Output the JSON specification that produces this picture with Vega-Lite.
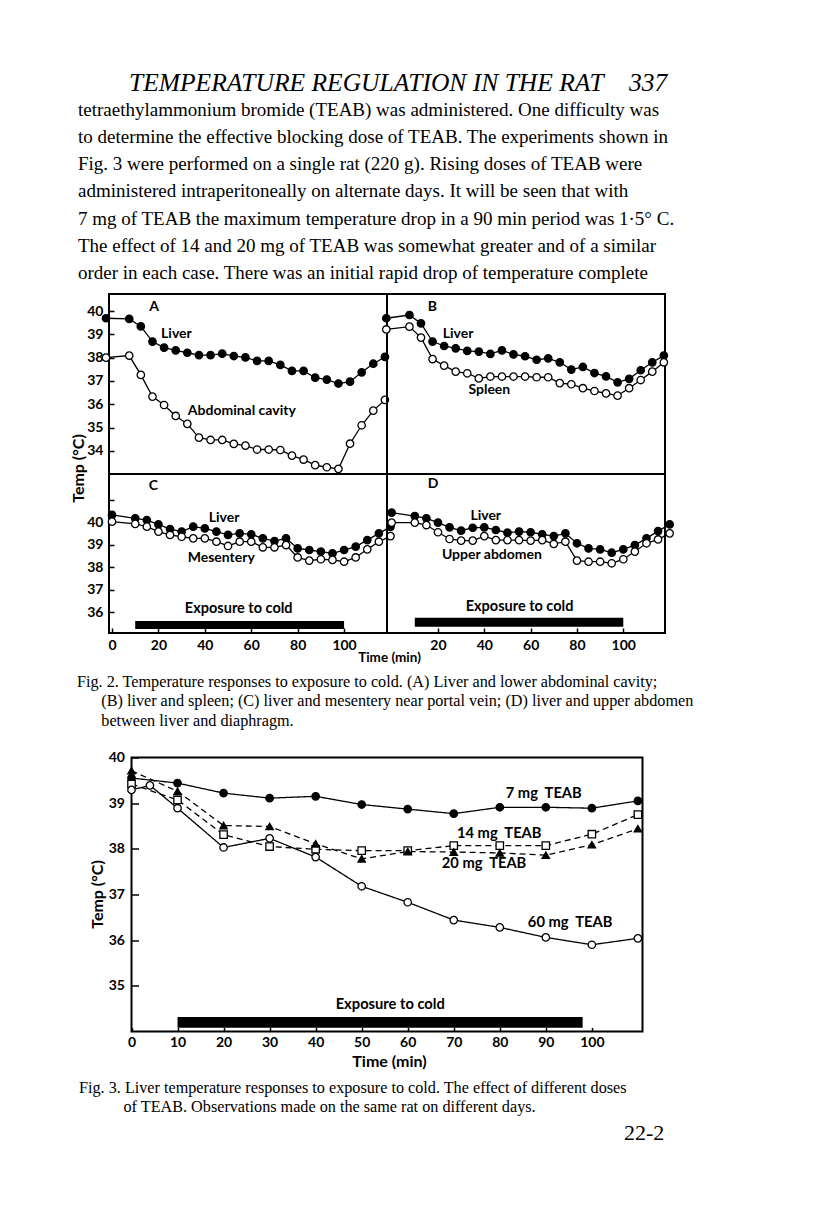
{
  "$schema": "https://vega.github.io/schema/vega-lite/v6.json",
  "background": "white",
  "padding": {"left": 69, "top": 71, "right": 0, "bottom": 0},
  "autosize": {"type": "pad"},
  "config": {
    "font": "Lato",
    "view": {"stroke": "black", "strokeWidth": 2},
    "axis": {"labelFont": "Lato", "labelFontWeight": "bold", "labelFontSize": 14, "labelColor": "black", "labelOverlap": false, "titleFont": "Lato", "titleFontWeight": "bold", "titleFontSize": 13.5, "titleColor": "black", "tickColor": "black", "tickWidth": 1.5, "domainColor": "black", "grid": false},
    "text": {"font": "Lato", "fontWeight": "bold", "fontSize": 14, "color": "black"}
  },
  "title": {
    "text": "\u200b\u00a0\u00a0\u00a0\u00a0\u00a0\u00a0\u00a0\u00a0TEMPERATURE REGULATION IN THE RAT\u00a0\u00a0\u00a0\u00a0337",
    "subtitle": [
      "tetraethylammonium bromide (TEAB) was administered.  One difficulty was",
      "to determine the effective blocking dose of TEAB.  The experiments shown in",
      "Fig. 3 were performed on a single rat (220 g).  Rising doses of TEAB were",
      "administered intraperitoneally on alternate days.  It will be seen that with",
      "7 mg of TEAB the maximum temperature drop in a 90 min period was 1\u00b75\u00b0 C.",
      "The effect of 14 and 20 mg of TEAB was somewhat greater and of a similar",
      "order in each case. There was an initial rapid drop of temperature complete"
    ],
    "anchor": "start", "dx": 9,
    "font": "Liberation Serif", "fontSize": 25.5, "fontStyle": "italic", "fontWeight": "normal", "color": "black",
    "subtitleFont": "Liberation Serif", "subtitleFontSize": 19, "subtitleFontStyle": "normal", "subtitleFontWeight": "normal", "subtitleColor": "black",
    "subtitleLineHeight": 27.2, "subtitlePadding": 4, "offset": 10
  },
  "datasets": {
    "fig2": [
      {"panel":"A","series":"Liver","t":0,"T":39.69},{"panel":"A","series":"Liver","t":10,"T":39.66},{"panel":"A","series":"Liver","t":15,"T":39.34},{"panel":"A","series":"Liver","t":20,"T":38.69},{"panel":"A","series":"Liver","t":25,"T":38.43},{"panel":"A","series":"Liver","t":30,"T":38.31},{"panel":"A","series":"Liver","t":35,"T":38.21},{"panel":"A","series":"Liver","t":40,"T":38.11},{"panel":"A","series":"Liver","t":45,"T":38.11},{"panel":"A","series":"Liver","t":50,"T":38.17},{"panel":"A","series":"Liver","t":55,"T":38.07},{"panel":"A","series":"Liver","t":60,"T":38.01},{"panel":"A","series":"Liver","t":65,"T":37.86},{"panel":"A","series":"Liver","t":70,"T":37.86},{"panel":"A","series":"Liver","t":75,"T":37.69},{"panel":"A","series":"Liver","t":80,"T":37.43},{"panel":"A","series":"Liver","t":85,"T":37.43},{"panel":"A","series":"Liver","t":90,"T":37.14},{"panel":"A","series":"Liver","t":95,"T":37.06},{"panel":"A","series":"Liver","t":100,"T":36.89},{"panel":"A","series":"Liver","t":105,"T":36.97},{"panel":"A","series":"Liver","t":110,"T":37.37},{"panel":"A","series":"Liver","t":115,"T":37.74},{"panel":"A","series":"Liver","t":120,"T":38.03},
      {"panel":"A","series":"Abdominal cavity","t":0,"T":38.0},{"panel":"A","series":"Abdominal cavity","t":10,"T":38.09},{"panel":"A","series":"Abdominal cavity","t":15,"T":37.26},{"panel":"A","series":"Abdominal cavity","t":20,"T":36.33},{"panel":"A","series":"Abdominal cavity","t":25,"T":35.97},{"panel":"A","series":"Abdominal cavity","t":30,"T":35.5},{"panel":"A","series":"Abdominal cavity","t":35,"T":35.16},{"panel":"A","series":"Abdominal cavity","t":40,"T":34.57},{"panel":"A","series":"Abdominal cavity","t":45,"T":34.47},{"panel":"A","series":"Abdominal cavity","t":50,"T":34.47},{"panel":"A","series":"Abdominal cavity","t":55,"T":34.3},{"panel":"A","series":"Abdominal cavity","t":60,"T":34.23},{"panel":"A","series":"Abdominal cavity","t":65,"T":34.06},{"panel":"A","series":"Abdominal cavity","t":70,"T":34.06},{"panel":"A","series":"Abdominal cavity","t":75,"T":34.04},{"panel":"A","series":"Abdominal cavity","t":80,"T":33.8},{"panel":"A","series":"Abdominal cavity","t":85,"T":33.63},{"panel":"A","series":"Abdominal cavity","t":90,"T":33.39},{"panel":"A","series":"Abdominal cavity","t":95,"T":33.3},{"panel":"A","series":"Abdominal cavity","t":100,"T":33.23},{"panel":"A","series":"Abdominal cavity","t":105,"T":34.31},{"panel":"A","series":"Abdominal cavity","t":110,"T":35.1},{"panel":"A","series":"Abdominal cavity","t":115,"T":35.73},{"panel":"A","series":"Abdominal cavity","t":120,"T":36.19},
      {"panel":"B","series":"Liver","t":0,"T":39.69},{"panel":"B","series":"Liver","t":10,"T":39.83},{"panel":"B","series":"Liver","t":15,"T":39.47},{"panel":"B","series":"Liver","t":20,"T":38.69},{"panel":"B","series":"Liver","t":25,"T":38.5},{"panel":"B","series":"Liver","t":30,"T":38.4},{"panel":"B","series":"Liver","t":35,"T":38.29},{"panel":"B","series":"Liver","t":40,"T":38.26},{"panel":"B","series":"Liver","t":45,"T":38.16},{"panel":"B","series":"Liver","t":50,"T":38.31},{"panel":"B","series":"Liver","t":55,"T":38.14},{"panel":"B","series":"Liver","t":60,"T":38.06},{"panel":"B","series":"Liver","t":65,"T":37.91},{"panel":"B","series":"Liver","t":70,"T":37.97},{"panel":"B","series":"Liver","t":75,"T":37.8},{"panel":"B","series":"Liver","t":80,"T":37.49},{"panel":"B","series":"Liver","t":85,"T":37.6},{"panel":"B","series":"Liver","t":90,"T":37.34},{"panel":"B","series":"Liver","t":95,"T":37.2},{"panel":"B","series":"Liver","t":100,"T":36.94},{"panel":"B","series":"Liver","t":105,"T":37.09},{"panel":"B","series":"Liver","t":110,"T":37.46},{"panel":"B","series":"Liver","t":115,"T":37.8},{"panel":"B","series":"Liver","t":120,"T":38.09},
      {"panel":"B","series":"Spleen","t":0,"T":39.21},{"panel":"B","series":"Spleen","t":10,"T":39.33},{"panel":"B","series":"Spleen","t":15,"T":38.86},{"panel":"B","series":"Spleen","t":20,"T":37.94},{"panel":"B","series":"Spleen","t":25,"T":37.66},{"panel":"B","series":"Spleen","t":30,"T":37.4},{"panel":"B","series":"Spleen","t":35,"T":37.33},{"panel":"B","series":"Spleen","t":40,"T":37.11},{"panel":"B","series":"Spleen","t":45,"T":37.19},{"panel":"B","series":"Spleen","t":50,"T":37.19},{"panel":"B","series":"Spleen","t":55,"T":37.19},{"panel":"B","series":"Spleen","t":60,"T":37.19},{"panel":"B","series":"Spleen","t":65,"T":37.16},{"panel":"B","series":"Spleen","t":70,"T":37.16},{"panel":"B","series":"Spleen","t":75,"T":36.91},{"panel":"B","series":"Spleen","t":80,"T":36.86},{"panel":"B","series":"Spleen","t":85,"T":36.69},{"panel":"B","series":"Spleen","t":90,"T":36.57},{"panel":"B","series":"Spleen","t":95,"T":36.47},{"panel":"B","series":"Spleen","t":100,"T":36.37},{"panel":"B","series":"Spleen","t":105,"T":36.69},{"panel":"B","series":"Spleen","t":110,"T":37.04},{"panel":"B","series":"Spleen","t":115,"T":37.4},{"panel":"B","series":"Spleen","t":120,"T":37.8},
      {"panel":"C","series":"Liver","t":0,"T":40.33},{"panel":"C","series":"Liver","t":10,"T":40.18},{"panel":"C","series":"Liver","t":15,"T":40.1},{"panel":"C","series":"Liver","t":20,"T":39.91},{"panel":"C","series":"Liver","t":25,"T":39.7},{"panel":"C","series":"Liver","t":30,"T":39.59},{"panel":"C","series":"Liver","t":35,"T":39.81},{"panel":"C","series":"Liver","t":40,"T":39.73},{"panel":"C","series":"Liver","t":45,"T":39.59},{"panel":"C","series":"Liver","t":50,"T":39.44},{"panel":"C","series":"Liver","t":55,"T":39.51},{"panel":"C","series":"Liver","t":60,"T":39.47},{"panel":"C","series":"Liver","t":65,"T":39.29},{"panel":"C","series":"Liver","t":70,"T":39.17},{"panel":"C","series":"Liver","t":75,"T":39.29},{"panel":"C","series":"Liver","t":80,"T":38.84},{"panel":"C","series":"Liver","t":85,"T":38.77},{"panel":"C","series":"Liver","t":90,"T":38.7},{"panel":"C","series":"Liver","t":95,"T":38.62},{"panel":"C","series":"Liver","t":100,"T":38.77},{"panel":"C","series":"Liver","t":105,"T":38.92},{"panel":"C","series":"Liver","t":110,"T":39.21},{"panel":"C","series":"Liver","t":115,"T":39.51},{"panel":"C","series":"Liver","t":120,"T":39.8},
      {"panel":"C","series":"Mesentery","t":0,"T":40.03},{"panel":"C","series":"Mesentery","t":10,"T":39.93},{"panel":"C","series":"Mesentery","t":15,"T":39.81},{"panel":"C","series":"Mesentery","t":20,"T":39.59},{"panel":"C","series":"Mesentery","t":25,"T":39.44},{"panel":"C","series":"Mesentery","t":30,"T":39.36},{"panel":"C","series":"Mesentery","t":35,"T":39.29},{"panel":"C","series":"Mesentery","t":40,"T":39.29},{"panel":"C","series":"Mesentery","t":45,"T":39.14},{"panel":"C","series":"Mesentery","t":50,"T":38.95},{"panel":"C","series":"Mesentery","t":55,"T":39.14},{"panel":"C","series":"Mesentery","t":60,"T":39.14},{"panel":"C","series":"Mesentery","t":65,"T":38.89},{"panel":"C","series":"Mesentery","t":70,"T":38.89},{"panel":"C","series":"Mesentery","t":75,"T":38.99},{"panel":"C","series":"Mesentery","t":80,"T":38.44},{"panel":"C","series":"Mesentery","t":85,"T":38.3},{"panel":"C","series":"Mesentery","t":90,"T":38.36},{"panel":"C","series":"Mesentery","t":95,"T":38.33},{"panel":"C","series":"Mesentery","t":100,"T":38.25},{"panel":"C","series":"Mesentery","t":105,"T":38.44},{"panel":"C","series":"Mesentery","t":110,"T":38.8},{"panel":"C","series":"Mesentery","t":115,"T":39.14},{"panel":"C","series":"Mesentery","t":120,"T":39.39},
      {"panel":"D","series":"Liver","t":0,"T":40.43},{"panel":"D","series":"Liver","t":10,"T":40.28},{"panel":"D","series":"Liver","t":15,"T":40.18},{"panel":"D","series":"Liver","t":20,"T":39.99},{"panel":"D","series":"Liver","t":25,"T":39.78},{"panel":"D","series":"Liver","t":30,"T":39.63},{"panel":"D","series":"Liver","t":35,"T":39.76},{"panel":"D","series":"Liver","t":40,"T":39.78},{"panel":"D","series":"Liver","t":45,"T":39.66},{"panel":"D","series":"Liver","t":50,"T":39.54},{"panel":"D","series":"Liver","t":55,"T":39.59},{"panel":"D","series":"Liver","t":60,"T":39.56},{"panel":"D","series":"Liver","t":65,"T":39.47},{"panel":"D","series":"Liver","t":70,"T":39.39},{"panel":"D","series":"Liver","t":75,"T":39.51},{"panel":"D","series":"Liver","t":80,"T":39.07},{"panel":"D","series":"Liver","t":85,"T":38.84},{"panel":"D","series":"Liver","t":90,"T":38.8},{"panel":"D","series":"Liver","t":95,"T":38.65},{"panel":"D","series":"Liver","t":100,"T":38.8},{"panel":"D","series":"Liver","t":105,"T":38.99},{"panel":"D","series":"Liver","t":110,"T":39.29},{"panel":"D","series":"Liver","t":115,"T":39.61},{"panel":"D","series":"Liver","t":120,"T":39.91},
      {"panel":"D","series":"Upper abdomen","t":0,"T":39.99},{"panel":"D","series":"Upper abdomen","t":10,"T":39.99},{"panel":"D","series":"Upper abdomen","t":15,"T":39.88},{"panel":"D","series":"Upper abdomen","t":20,"T":39.56},{"panel":"D","series":"Upper abdomen","t":25,"T":39.26},{"panel":"D","series":"Upper abdomen","t":30,"T":39.19},{"panel":"D","series":"Upper abdomen","t":35,"T":39.19},{"panel":"D","series":"Upper abdomen","t":40,"T":39.39},{"panel":"D","series":"Upper abdomen","t":45,"T":39.21},{"panel":"D","series":"Upper abdomen","t":50,"T":39.21},{"panel":"D","series":"Upper abdomen","t":55,"T":39.21},{"panel":"D","series":"Upper abdomen","t":60,"T":39.19},{"panel":"D","series":"Upper abdomen","t":65,"T":39.21},{"panel":"D","series":"Upper abdomen","t":70,"T":39.04},{"panel":"D","series":"Upper abdomen","t":75,"T":39.14},{"panel":"D","series":"Upper abdomen","t":80,"T":38.3},{"panel":"D","series":"Upper abdomen","t":85,"T":38.25},{"panel":"D","series":"Upper abdomen","t":90,"T":38.25},{"panel":"D","series":"Upper abdomen","t":95,"T":38.18},{"panel":"D","series":"Upper abdomen","t":100,"T":38.36},{"panel":"D","series":"Upper abdomen","t":105,"T":38.7},{"panel":"D","series":"Upper abdomen","t":110,"T":39.07},{"panel":"D","series":"Upper abdomen","t":115,"T":39.24},{"panel":"D","series":"Upper abdomen","t":120,"T":39.51}
    ],
    "fig2labels": [
      {"panel":"A","label":"A","t":18.6,"T":40.18},{"panel":"A","label":"Liver","t":23.7,"T":39.0},{"panel":"A","label":"Abdominal cavity","t":35.2,"T":35.71},
      {"panel":"B","label":"B","t":17.9,"T":40.19},{"panel":"B","label":"Liver","t":24.4,"T":39.01},{"panel":"B","label":"Spleen","t":35.5,"T":36.61},
      {"panel":"C","label":"C","t":15.8,"T":41.61},{"panel":"C","label":"Liver","t":41.7,"T":40.18},{"panel":"C","label":"Mesentery","t":32.6,"T":38.4},
      {"panel":"D","label":"D","t":15.6,"T":41.7},{"panel":"D","label":"Liver","t":34.0,"T":40.28},{"panel":"D","label":"Upper abdomen","t":21.7,"T":38.55}
    ],
    "fig2cold": [
      {"panel":"C","label":"Exposure to cold","start":10,"end":100,"t":54.6,"T":36.15},
      {"panel":"D","label":"Exposure to cold","start":10,"end":100,"t":55.2,"T":36.25}
    ],
    "fig3": [
      {"series":"7 mg TEAB","t":0,"T":39.55},{"series":"7 mg TEAB","t":10,"T":39.44},{"series":"7 mg TEAB","t":20,"T":39.22},{"series":"7 mg TEAB","t":30,"T":39.11},{"series":"7 mg TEAB","t":40,"T":39.15},{"series":"7 mg TEAB","t":50,"T":38.97},{"series":"7 mg TEAB","t":60,"T":38.87},{"series":"7 mg TEAB","t":70,"T":38.77},{"series":"7 mg TEAB","t":80,"T":38.91},{"series":"7 mg TEAB","t":90,"T":38.91},{"series":"7 mg TEAB","t":100,"T":38.89},{"series":"7 mg TEAB","t":110,"T":39.05},
      {"series":"14 mg TEAB","t":0,"T":39.42},{"series":"14 mg TEAB","t":10,"T":39.07},{"series":"14 mg TEAB","t":20,"T":38.31},{"series":"14 mg TEAB","t":30,"T":38.05},{"series":"14 mg TEAB","t":40,"T":37.99},{"series":"14 mg TEAB","t":50,"T":37.96},{"series":"14 mg TEAB","t":60,"T":37.96},{"series":"14 mg TEAB","t":70,"T":38.07},{"series":"14 mg TEAB","t":80,"T":38.07},{"series":"14 mg TEAB","t":90,"T":38.07},{"series":"14 mg TEAB","t":100,"T":38.32},{"series":"14 mg TEAB","t":110,"T":38.75},
      {"series":"20 mg TEAB","t":0,"T":39.71},{"series":"20 mg TEAB","t":10,"T":39.26},{"series":"20 mg TEAB","t":20,"T":38.51},{"series":"20 mg TEAB","t":30,"T":38.49},{"series":"20 mg TEAB","t":40,"T":38.11},{"series":"20 mg TEAB","t":50,"T":37.78},{"series":"20 mg TEAB","t":60,"T":37.94},{"series":"20 mg TEAB","t":70,"T":37.93},{"series":"20 mg TEAB","t":80,"T":37.91},{"series":"20 mg TEAB","t":90,"T":37.86},{"series":"20 mg TEAB","t":100,"T":38.09},{"series":"20 mg TEAB","t":110,"T":38.44},
      {"series":"60 mg TEAB","t":0,"T":39.29},{"series":"60 mg TEAB","t":4,"T":39.39},{"series":"60 mg TEAB","t":10,"T":38.89},{"series":"60 mg TEAB","t":20,"T":38.03},{"series":"60 mg TEAB","t":30,"T":38.23},{"series":"60 mg TEAB","t":40,"T":37.82},{"series":"60 mg TEAB","t":50,"T":37.18},{"series":"60 mg TEAB","t":60,"T":36.83},{"series":"60 mg TEAB","t":70,"T":36.44},{"series":"60 mg TEAB","t":80,"T":36.28},{"series":"60 mg TEAB","t":90,"T":36.06},{"series":"60 mg TEAB","t":100,"T":35.9},{"series":"60 mg TEAB","t":110,"T":36.04}
    ],
    "fig3labels": [
      {"label":"7 mg\u00a0 TEAB","t":81.3,"T":39.19},
      {"label":"14 mg\u00a0 TEAB","t":70.7,"T":38.33},
      {"label":"20 mg\u00a0 TEAB","t":67.4,"T":37.66},
      {"label":"60 mg\u00a0 TEAB","t":86.1,"T":36.38}
    ],
    "fig3cold": [
      {"label":"Exposure to cold","start":10,"end":98,"t":56.2,"T":34.57}
    ]
  },
  "spacing": 21.5,
  "vconcat": [
    {
      "columns": 2,
      "spacing": 0,
      "bounds": "flush",
      "title": {
        "text": [
          "Fig. 2.  Temperature responses to exposure to cold.  (A) Liver and lower abdominal cavity;",
          "\u200b\u00a0\u00a0\u00a0\u00a0\u00a0\u00a0(B) liver and spleen; (C) liver and mesentery near portal vein; (D) liver and upper abdomen",
          "\u200b\u00a0\u00a0\u00a0\u00a0\u00a0\u00a0between liver and diaphragm."
        ],
        "orient": "bottom", "anchor": "start", "dx": 8,
        "font": "Liberation Serif", "fontSize": 16.2, "fontWeight": "normal", "fontStyle": "normal", "color": "black",
        "lineHeight": 19.5, "offset": 9
      },
      "concat": [
        {
          "width": 278, "height": 180,
          "encoding": {
            "x": {"field": "t", "type": "quantitative", "scale": {"domain": [1.3, 120.9], "nice": false, "zero": false}, "axis": null},
            "y": {"field": "T", "type": "quantitative", "scale": {"domain": [33.01, 40.73], "nice": false, "zero": false},
                  "axis": {"values": [34,35,36,37,38,39,40], "tickCount": 7, "labelOverlap": false, "domain": false, "tickSize": -5, "labelPadding": 11, "title": "Temp (\u00b0C)", "titleFontSize": 16, "titleX": -31, "titleY": 174, "titleAngle": 270, "titleAlign": "center", "titleBaseline": "middle"}}
          },
          "layer": [
            {"data": {"name": "fig2"}, "transform": [{"filter": "datum.panel === 'A'"}],
             "mark": {"type": "line", "color": "black", "strokeWidth": 1.3},
             "encoding": {"detail": {"field": "series"}}},
            {"data": {"name": "fig2"}, "transform": [{"filter": "datum.panel === 'A'"}],
             "mark": {"type": "point", "filled": true, "stroke": "black", "strokeWidth": 1.3, "opacity": 1, "size": 55},
             "encoding": {"fill": {"condition": {"test": "datum.series === 'Liver'", "value": "black"}, "value": "white"}}},
            {"data": {"name": "fig2labels"}, "transform": [{"filter": "datum.panel === 'A'"}],
             "mark": {"type": "text", "align": "left", "baseline": "middle"},
             "encoding": {"text": {"field": "label"}}}
          ]
        },
        {
          "width": 278, "height": 180,
          "encoding": {
            "x": {"field": "t", "type": "quantitative", "scale": {"domain": [0.3, 120.5], "nice": false, "zero": false}, "axis": null},
            "y": {"field": "T", "type": "quantitative", "scale": {"domain": [33.01, 40.73], "nice": false, "zero": false}, "axis": null}
          },
          "layer": [
            {"data": {"name": "fig2"}, "transform": [{"filter": "datum.panel === 'B'"}],
             "mark": {"type": "line", "color": "black", "strokeWidth": 1.3},
             "encoding": {"detail": {"field": "series"}}},
            {"data": {"name": "fig2"}, "transform": [{"filter": "datum.panel === 'B'"}],
             "mark": {"type": "point", "filled": true, "stroke": "black", "strokeWidth": 1.3, "opacity": 1, "size": 55},
             "encoding": {"fill": {"condition": {"test": "datum.series === 'Liver'", "value": "black"}, "value": "white"}}},
            {"data": {"name": "fig2labels"}, "transform": [{"filter": "datum.panel === 'B'"}],
             "mark": {"type": "text", "align": "left", "baseline": "middle"},
             "encoding": {"text": {"field": "label"}}}
          ]
        },
        {
          "width": 278, "height": 159,
          "encoding": {
            "x": {"field": "t", "type": "quantitative", "scale": {"domain": [-1.3, 118.5], "nice": false, "zero": false},
                  "axis": {"values": [0,20,40,60,80,100], "labelOverlap": false, "domain": false, "tickSize": -5, "labelPadding": 10, "title": "Time (min)", "titleX": 280, "titleY": 24, "titleAlign": "center", "titleBaseline": "middle"}},
            "y": {"field": "T", "type": "quantitative", "scale": {"domain": [35.08, 42.15], "nice": false, "zero": false},
                  "axis": {"values": [36,37,38,39,40,41], "tickCount": 6, "labelExpr": "datum.value === 41 ? '' : datum.label", "labelOverlap": false, "domain": false, "tickSize": -5, "labelPadding": 11, "title": null}}
          },
          "layer": [
            {"data": {"name": "fig2cold"}, "transform": [{"filter": "datum.panel === 'C'"}],
             "mark": {"type": "rect", "color": "black"},
             "encoding": {
               "x": {"field": "start", "type": "quantitative"},
               "x2": {"field": "end"},
               "y": {"datum": 35.61, "type": "quantitative"},
               "y2": {"datum": 35.26}
             }},
            {"data": {"name": "fig2cold"}, "transform": [{"filter": "datum.panel === 'C'"}],
             "mark": {"type": "text", "align": "center", "baseline": "middle", "fontSize": 14.5},
             "encoding": {"text": {"field": "label"}}},
            {"data": {"name": "fig2"}, "transform": [{"filter": "datum.panel === 'C'"}],
             "mark": {"type": "line", "color": "black", "strokeWidth": 1.3},
             "encoding": {"detail": {"field": "series"}}},
            {"data": {"name": "fig2"}, "transform": [{"filter": "datum.panel === 'C'"}],
             "mark": {"type": "point", "filled": true, "stroke": "black", "strokeWidth": 1.3, "opacity": 1, "size": 55},
             "encoding": {"fill": {"condition": {"test": "datum.series === 'Liver'", "value": "black"}, "value": "white"}}},
            {"data": {"name": "fig2labels"}, "transform": [{"filter": "datum.panel === 'C'"}],
             "mark": {"type": "text", "align": "left", "baseline": "middle"},
             "encoding": {"text": {"field": "label"}}}
          ]
        },
        {
          "width": 278, "height": 159,
          "encoding": {
            "x": {"field": "t", "type": "quantitative", "scale": {"domain": [-2, 118], "nice": false, "zero": false},
                  "axis": {"values": [20,40,60,80,100], "labelOverlap": false, "domain": false, "tickSize": -5, "labelPadding": 10, "title": null}},
            "y": {"field": "T", "type": "quantitative", "scale": {"domain": [35.08, 42.15], "nice": false, "zero": false}, "axis": null}
          },
          "layer": [
            {"data": {"name": "fig2cold"}, "transform": [{"filter": "datum.panel === 'D'"}],
             "mark": {"type": "rect", "color": "black"},
             "encoding": {
               "x": {"field": "start", "type": "quantitative"},
               "x2": {"field": "end"},
               "y": {"datum": 35.76, "type": "quantitative"},
               "y2": {"datum": 35.36}
             }},
            {"data": {"name": "fig2cold"}, "transform": [{"filter": "datum.panel === 'D'"}],
             "mark": {"type": "text", "align": "center", "baseline": "middle", "fontSize": 14.5},
             "encoding": {"text": {"field": "label"}}},
            {"data": {"name": "fig2"}, "transform": [{"filter": "datum.panel === 'D'"}],
             "mark": {"type": "line", "color": "black", "strokeWidth": 1.3},
             "encoding": {"detail": {"field": "series"}}},
            {"data": {"name": "fig2"}, "transform": [{"filter": "datum.panel === 'D'"}],
             "mark": {"type": "point", "filled": true, "stroke": "black", "strokeWidth": 1.3, "opacity": 1, "size": 55},
             "encoding": {"fill": {"condition": {"test": "datum.series === 'Liver'", "value": "black"}, "value": "white"}}},
            {"data": {"name": "fig2labels"}, "transform": [{"filter": "datum.panel === 'D'"}],
             "mark": {"type": "text", "align": "left", "baseline": "middle"},
             "encoding": {"text": {"field": "label"}}}
          ]
        }
      ]
    },
    {
      "title": {"text": "22-2", "orient": "bottom", "anchor": "end", "dx": 20, "offset": 8,
                "font": "Liberation Serif", "fontSize": 22, "fontWeight": "normal", "fontStyle": "normal", "color": "black"},
      "vconcat": [
        {
          "width": 533.5, "height": 274,
          "view": {"stroke": null},
          "title": {
            "text": [
              "Fig. 3.  Liver temperature responses to exposure to cold. The effect of different doses",
              "\u200b\u00a0\u00a0\u00a0\u00a0\u00a0\u00a0\u00a0\u00a0\u00a0\u00a0\u00a0of TEAB.  Observations made on the same rat on different days."
            ],
            "orient": "bottom", "anchor": "start", "dx": -10,
            "font": "Liberation Serif", "fontSize": 16.2, "fontWeight": "normal", "fontStyle": "normal", "color": "black",
            "lineHeight": 19.5, "offset": 10
          },
          "layer": [
            {"data": {"name": "fig3cold"},
             "mark": {"type": "rect", "filled": false, "stroke": "black", "strokeWidth": 2},
             "encoding": {
               "x": {"datum": 0, "type": "quantitative", "scale": {"domain": [-4.8875, 111], "nice": false, "zero": false},
                     "axis": {"values": [0,10,20,30,40,50,60,70,80,90,100], "labelOverlap": false, "domain": false, "tickSize": -4, "labelPadding": 8, "title": "Time (min)", "titleFontSize": 16, "titleX": 280, "titleY": 30, "titleAlign": "center", "titleBaseline": "middle"}},
               "x2": {"datum": 111},
               "y": {"datum": 34, "type": "quantitative", "scale": {"domain": [34, 40], "nice": false, "zero": false},
                     "axis": {"values": [35,36,37,38,39,40], "labelOverlap": false, "offset": -22.5, "domain": false, "tickSize": -7, "labelPadding": 14, "title": "Temp (\u00b0C)", "titleFontSize": 16, "titleX": -34.5, "titleY": 136.5, "titleAngle": 270, "titleAlign": "center", "titleBaseline": "middle"}},
               "y2": {"datum": 40}
             }},
            {"data": {"name": "fig3cold"},
             "mark": {"type": "rect", "color": "black"},
             "encoding": {
               "x": {"field": "start", "type": "quantitative"},
               "x2": {"field": "end"},
               "y": {"datum": 34.32, "type": "quantitative"},
               "y2": {"datum": 34.08}
             }},
            {"data": {"name": "fig3cold"},
             "mark": {"type": "text", "align": "center", "baseline": "middle", "fontSize": 14.7},
             "encoding": {"x": {"field": "t", "type": "quantitative"}, "y": {"field": "T", "type": "quantitative"}, "text": {"field": "label"}}},
            {"data": {"name": "fig3"},
             "mark": {"type": "line", "color": "black", "strokeWidth": 1.3},
             "encoding": {
               "x": {"field": "t", "type": "quantitative"},
               "y": {"field": "T", "type": "quantitative"},
               "detail": {"field": "series"},
               "strokeDash": {"field": "series", "type": "nominal", "scale": {"domain": ["7 mg TEAB","14 mg TEAB","20 mg TEAB","60 mg TEAB"], "range": [[1,0],[6,4],[6,4],[1,0]]}, "legend": null}
             }},
            {"data": {"name": "fig3"},
             "mark": {"type": "point", "filled": true, "stroke": "black", "strokeWidth": 1.3, "opacity": 1, "size": 55},
             "encoding": {
               "x": {"field": "t", "type": "quantitative"},
               "y": {"field": "T", "type": "quantitative"},
               "shape": {"field": "series", "type": "nominal", "scale": {"domain": ["7 mg TEAB","14 mg TEAB","20 mg TEAB","60 mg TEAB"], "range": ["circle","square","triangle-up","circle"]}, "legend": null},
               "fill": {"field": "series", "type": "nominal", "scale": {"domain": ["7 mg TEAB","14 mg TEAB","20 mg TEAB","60 mg TEAB"], "range": ["black","white","black","white"]}, "legend": null}
             }},
            {"data": {"name": "fig3labels"},
             "mark": {"type": "text", "align": "left", "baseline": "middle", "fontSize": 14.7},
             "encoding": {"x": {"field": "t", "type": "quantitative"}, "y": {"field": "T", "type": "quantitative"}, "text": {"field": "label"}}}
          ]
        }
      ]
    }
  ]
}
